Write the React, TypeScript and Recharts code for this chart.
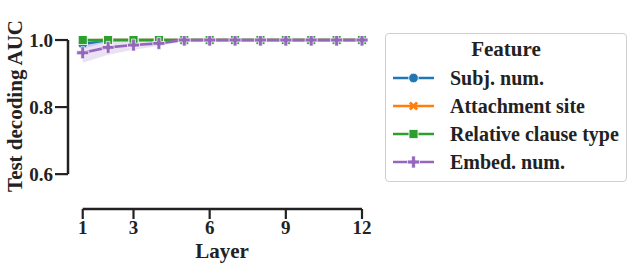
import React from 'react'
import { ComposedChart, Line, Area, XAxis, YAxis, ReferenceLine } from 'recharts'

const layers = [1, 2, 3, 4, 5, 6, 7, 8, 9, 10, 11, 12]
const subjNum = [0.988, 1.0, 1.0, 1.0, 1.0, 1.0, 1.0, 1.0, 1.0, 1.0, 1.0, 1.0]
const subjLow = [0.975, 0.995, 0.999, 1.0, 1.0, 1.0, 1.0, 1.0, 1.0, 1.0, 1.0, 1.0]
const attachSite = [0.999, 1.0, 1.0, 1.0, 1.0, 1.0, 1.0, 1.0, 1.0, 1.0, 1.0, 1.0]
const relClause = [1.0, 1.0, 1.0, 1.0, 1.0, 1.0, 1.0, 1.0, 1.0, 1.0, 1.0, 1.0]
const embedNum = [0.962, 0.978, 0.985, 0.99, 1.0, 1.0, 1.0, 1.0, 1.0, 1.0, 1.0, 1.0]
const embedLow = [0.932, 0.956, 0.971, 0.982, 0.997, 1.0, 1.0, 1.0, 1.0, 1.0, 1.0, 1.0]
const embedHigh = [0.99, 0.995, 0.998, 1.0, 1.0, 1.0, 1.0, 1.0, 1.0, 1.0, 1.0, 1.0]

const xTicks = [1, 3, 6, 9, 12]
const yTicks = [0.6, 0.8, 1.0]

const seriesNames = ['Subj. num.', 'Attachment site', 'Relative clause type', 'Embed. num.']
const colors = ['#1f77b4', '#ff7f0e', '#2ca02c', '#9467bd']
const markers = ['circle', 'x', 'square', 'plus']

const data = layers.map((layer, i) => ({
  layer,
  subj: subjNum[i],
  subjBand: [subjLow[i], 1.0],
  attach: attachSite[i],
  rel: relClause[i],
  embed: embedNum[i],
  embedBand: [embedLow[i], embedHigh[i]],
}))

const FONT = '"Liberation Serif", "Times New Roman", serif'
const INK = '#222'

function Marker({ kind, cx, cy, color }: { kind: string; cx: number; cy: number; color: string }) {
  if (kind === 'circle') return <circle cx={cx} cy={cy} r={4.8} fill={color} stroke="#fff" strokeWidth={0.8} />
  if (kind === 'square') return <rect x={cx - 4.5} y={cy - 4.5} width={9} height={9} fill={color} stroke="#fff" strokeWidth={0.8} />
  if (kind === 'x')
    return (
      <g stroke={color} strokeWidth={2.8}>
        <line x1={cx - 3.6} y1={cy - 3.6} x2={cx + 3.6} y2={cy + 3.6} />
        <line x1={cx - 3.6} y1={cy + 3.6} x2={cx + 3.6} y2={cy - 3.6} />
      </g>
    )
  const a = 6
  const w = 1.9
  const pts = [
    [-w, -a], [w, -a], [w, -w], [a, -w], [a, w], [w, w],
    [w, a], [-w, a], [-w, w], [-a, w], [-a, -w], [-w, -w],
  ]
  return (
    <polygon
      points={pts.map(([px, py]) => `${cx + px},${cy + py}`).join(' ')}
      fill={color}
      stroke="#fff"
      strokeWidth={0.7}
    />
  )
}

const dotFor = (i: number) => (p: any) =>
  p.cx == null ? <g key={p.key} /> : <Marker key={p.key} kind={markers[i]} cx={p.cx} cy={p.cy} color={colors[i]} />

function LegendBox() {
  return (
    <div
      style={{
        position: 'absolute',
        left: 385,
        top: 33,
        width: 242,
        height: 149,
        border: '1px solid #d0d0d0',
        borderRadius: 4,
        fontFamily: FONT,
        fontWeight: 'bold',
        color: INK,
        boxSizing: 'border-box',
      }}
    >
      <div style={{ textAlign: 'center', fontSize: 21, marginTop: 2, lineHeight: '26px' }}>Feature</div>
      {seriesNames.map((name, i) => (
        <div key={name} style={{ display: 'flex', alignItems: 'center', height: 28, marginLeft: 6, marginTop: i === 0 ? 2 : 0 }}>
          <svg width={44} height={16}>
            <line x1={1} y1={8} x2={42} y2={8} stroke={colors[i]} strokeWidth={2.6} />
            <Marker kind={markers[i]} cx={21.5} cy={8} color={colors[i]} />
          </svg>
          <span style={{ fontSize: 20, marginLeft: 14 }}>{name}</span>
        </div>
      ))}
    </div>
  )
}

export default function App() {
  const keys = ['subj', 'attach', 'rel', 'embed']
  return (
    <div style={{ position: 'absolute', left: 0, top: 0, width: 634, height: 271, background: '#fff' }}>
      <ComposedChart width={634} height={271} data={data} margin={{ top: 36, right: 272, bottom: 12, left: 8 }}>
        <XAxis
          dataKey="layer"
          type="number"
          domain={[0.42, 12]}
          ticks={xTicks}
          axisLine={false}
          tickLine={{ stroke: INK, strokeWidth: 2.2 }}
          tickSize={10}
          tickMargin={2}
          height={50}
          tick={{ fill: INK, fontSize: 19, fontFamily: FONT, fontWeight: 'bold' }}
          label={(props: any) => {
            const vb = props.viewBox
            return (
              <text x={vb.x + vb.width / 2 + 7} y={vb.y + 49} textAnchor="middle" fill={INK} fontSize={21} fontFamily={FONT} fontWeight="bold">
                Layer
              </text>
            )
          }}
        />
        <YAxis
          type="number"
          domain={[0.496, 1.012]}
          ticks={yTicks}
          allowDataOverflow
          axisLine={false}
          tickLine={{ stroke: INK, strokeWidth: 2.2 }}
          tickSize={13}
          tickMargin={2}
          width={60}
          tickFormatter={(v: number) => v.toFixed(1)}
          tick={{ fill: INK, fontSize: 19, fontFamily: FONT, fontWeight: 'bold' }}
          label={(props: any) => {
            const vb = props.viewBox
            const x = vb.x + 7
            const y = vb.y + 70
            return (
              <text x={x} y={y} transform={`rotate(-90 ${x} ${y})`} textAnchor="middle" dominantBaseline="central" fill={INK} fontSize={21} fontFamily={FONT} fontWeight="bold">
                Test decoding AUC
              </text>
            )
          }}
        />
        <ReferenceLine segment={[{ x: 0.42, y: 0.6 }, { x: 0.42, y: 1.0 }]} stroke={INK} strokeWidth={2.5} ifOverflow="visible" />
        <ReferenceLine segment={[{ x: 1, y: 0.496 }, { x: 12, y: 0.496 }]} stroke={INK} strokeWidth={2.5} ifOverflow="visible" />
        <Area dataKey="subjBand" stroke="none" fill={colors[0]} fillOpacity={0.2} isAnimationActive={false} />
        <Area dataKey="embedBand" stroke="none" fill={colors[3]} fillOpacity={0.2} isAnimationActive={false} />
        {keys.map((k, i) => (
          <Line
            key={k}
            dataKey={k}
            stroke={colors[i]}
            strokeWidth={2.6}
            dot={dotFor(i)}
            activeDot={false}
            isAnimationActive={false}
          />
        ))}
      </ComposedChart>
      <LegendBox />
    </div>
  )
}
